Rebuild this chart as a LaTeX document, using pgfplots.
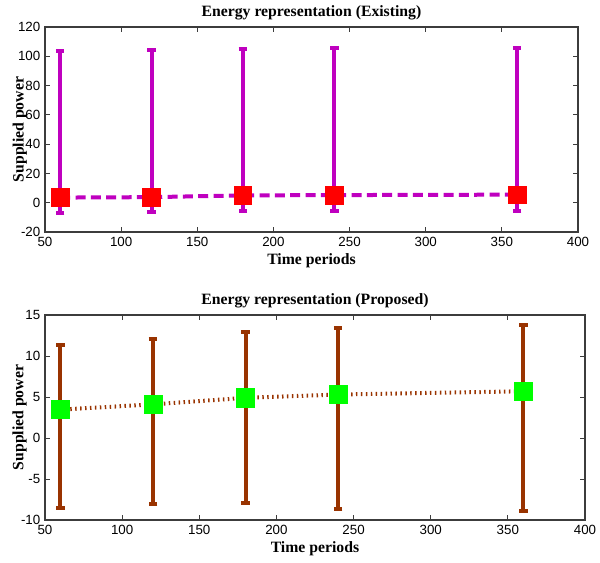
\documentclass[border=0pt]{standalone}
\usepackage{fontspec}
\setmainfont{Liberation Serif}
\newfontfamily\ticksf{Liberation Sans}
\usepackage{pgfplots}
\pgfplotsset{compat=1.18}
\definecolor{mag}{RGB}{191,0,191}
\definecolor{brn}{RGB}{153,51,0}
\definecolor{grn}{RGB}{0,255,0}
\definecolor{axgray}{RGB}{60,60,60}
\pgfplotsset{
  mystyle/.style={
    scale only axis,
    xmin=50, xmax=400,
    xtick={50,100,...,400},
    tick align=inside,
    major tick length=4pt,
    axis line style={axgray, line width=0.8pt},
    every tick/.style={axgray, line width=0.7pt},
    tick label style={font=\ticksf\fontsize{10}{12}\selectfont, black},
    /pgf/number format/assume math mode=true,
    title style={font=\bfseries\fontsize{11.8}{13}\selectfont, yshift=-4.5pt},
    label style={font=\bfseries\fontsize{11.8}{13}\selectfont},
    xlabel={Time periods},
    ylabel={Supplied power},
    xlabel style={yshift=1pt},
    ylabel style={at={(axis description cs:-0.047,0.5)}, anchor=center, rotate=0},
    clip=false,
  }
}
\begin{document}
\begin{tikzpicture}
\useasboundingbox (0,0) rectangle (450pt,422.25pt);
\begin{axis}[mystyle,
  at={(33.75pt,248.25pt)}, anchor=south west,
  width=399.75pt, height=153.75pt,
  ymin=-20, ymax=120, ytick={-20,0,...,120},
  title={Energy representation (Existing)}]
\addplot[mag, line width=3pt, dash pattern=on 7.5pt off 4pt,
  mark=square*, mark size=6.6pt,
  mark options={solid, fill=red, draw=red, line width=0.5pt},
  error bars/.cd, y dir=both, y explicit,
  error bar style={mag, line width=3pt, solid},
  error mark options={rotate=90, mag, line width=3pt, mark size=3.2pt, solid}]
coordinates {
 (60,3.5)  += (0,100.2) -= (0,10.5)
 (120,3.8) += (0,100.6) -= (0,10.1)
 (180,5.0) += (0,100.0) -= (0,10.4)
 (240,5.2) += (0,100.5) -= (0,11.0)
 (360,5.5) += (0,100.2) -= (0,11.3)
};
\end{axis}
\begin{axis}[mystyle,
  at={(33.75pt,32.25pt)}, anchor=south west,
  width=405pt, height=153.75pt,
  ymin=-10, ymax=15, ytick={-10,-5,...,15},
  title={Energy representation (Proposed)}]
\addplot[brn, line width=3pt, dash pattern=on 1.1pt off 2.6pt,
  mark=square*, mark size=6.8pt,
  mark options={solid, fill=grn, draw=grn, line width=0.5pt},
  error bars/.cd, y dir=both, y explicit,
  error bar style={brn, line width=3pt, solid},
  error mark options={rotate=90, brn, line width=3pt, mark size=3.2pt, solid}]
coordinates {
 (60,3.46)  += (0,7.94) -= (0,11.96)
 (120,4.1)  += (0,8.0)  -= (0,12.2)
 (180,4.9)  += (0,8.05) -= (0,12.8)
 (240,5.3)  += (0,8.1)  -= (0,14.0)
 (360,5.7)  += (0,8.1)  -= (0,14.6)
};
\end{axis}
\end{tikzpicture}
\end{document}
